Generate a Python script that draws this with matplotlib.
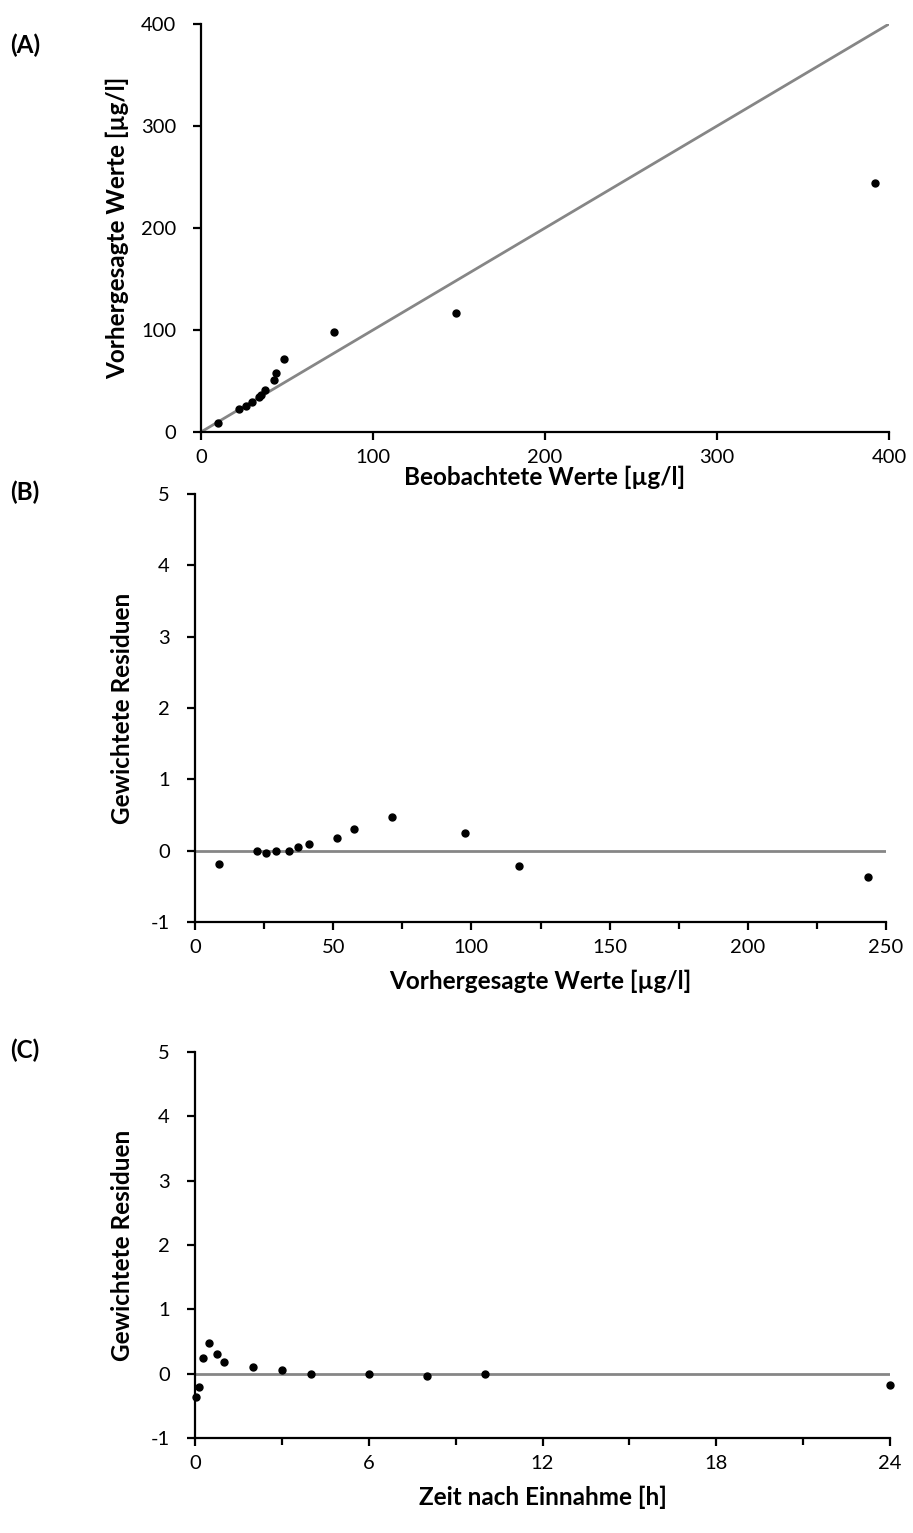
import matplotlib
matplotlib.use("Agg")
import matplotlib.pyplot as plt
from matplotlib.ticker import MultipleLocator

plt.rcParams['font.family'] = ['Lato', 'DejaVu Sans']
plt.rcParams['axes.unicode_minus'] = False

# Panel A: observed vs predicted
obs_A = [10.1, 22.1, 26.2, 29.5, 33.9, 34.9, 37.0, 42.6, 43.8, 48.0, 77.3, 148.0, 392.0]
pred_A = [8.5, 22.2, 25.5, 29.7, 34.0, 36.3, 40.9, 51.0, 57.5, 71.3, 97.7, 117.0, 244.0]
identity = [0, 400]

# Panel B: weighted residuals vs predicted
pred_B = [8.8, 22.3, 25.6, 29.4, 34.0, 37.1, 41.2, 51.3, 57.4, 71.3, 97.6, 117.3, 243.5]
res_B = [-0.18, -0.01, -0.03, -0.01, -0.01, 0.05, 0.10, 0.18, 0.30, 0.47, 0.25, -0.21, -0.375]

# Panel C: weighted residuals vs time
time_C = [0.05, 0.15, 0.27, 0.5, 0.75, 1.0, 2.0, 3.0, 4.0, 6.0, 8.0, 10.0, 24.0]
res_C = [-0.37, -0.20, 0.25, 0.47, 0.30, 0.18, 0.10, 0.05, -0.01, -0.01, -0.03, -0.01, -0.18]

W, H = 913, 1533
fig = plt.figure(figsize=(W / 100, H / 100), dpi=100)

def ax_at(left, top, right, bottom):
    return fig.add_axes([left / W, 1 - bottom / H, (right - left) / W, (bottom - top) / H])

TICK_FS = 14.5
LAB_FS = 17.5
GRAY = '#868686'
MS = 5

def style(ax):
    for s in ('top', 'right'):
        ax.spines[s].set_visible(False)
    for s in ('left', 'bottom'):
        ax.spines[s].set_linewidth(1.6)
        ax.spines[s].set_color('black')
    ax.tick_params(which='major', direction='out', length=6, width=1.6, labelsize=TICK_FS, pad=6)
    ax.tick_params(which='minor', direction='out', length=5, width=1.6)
    ax.tick_params(axis='y', which='major', pad=12)

# ---- Panel A
axA = ax_at(201, 24, 889, 432)
axA.plot(identity, identity, color=GRAY, lw=2, zorder=2)
axA.plot(obs_A, pred_A, 'o', color='black', ms=MS, zorder=3, clip_on=False)
axA.set_xlim(0, 400)
axA.set_ylim(0, 400)
axA.xaxis.set_major_locator(MultipleLocator(100))
axA.yaxis.set_major_locator(MultipleLocator(100))
style(axA)
axA.set_xlabel('Beobachtete Werte [µg/l]', fontsize=LAB_FS, fontweight='bold', labelpad=0)
axA.set_ylabel('Vorhergesagte Werte [µg/l]', fontsize=LAB_FS, fontweight='bold', labelpad=8)
fig.text(10 / W, 1 - 45 / H, '(A)', fontsize=LAB_FS, fontweight='bold', va='center')

# ---- Panel B
axB = ax_at(195, 494, 886, 922)
axB.plot([0, 250], [0, 0], color=GRAY, lw=2, zorder=2)
axB.plot(pred_B, res_B, 'o', color='black', ms=MS, zorder=3)
axB.set_xlim(0, 250)
axB.set_ylim(-1, 5)
axB.xaxis.set_major_locator(MultipleLocator(50))
axB.xaxis.set_minor_locator(MultipleLocator(25))
axB.yaxis.set_major_locator(MultipleLocator(1))
style(axB)
axB.set_xlabel('Vorhergesagte Werte [µg/l]', fontsize=LAB_FS, fontweight='bold', labelpad=10)
axB.set_ylabel('Gewichtete Residuen', fontsize=LAB_FS, fontweight='bold', labelpad=12)
fig.text(10 / W, 1 - 492 / H, '(B)', fontsize=LAB_FS, fontweight='bold', va='center')

# ---- Panel C
axC = ax_at(195, 1052, 890, 1438)
axC.plot([0, 24], [0, 0], color=GRAY, lw=2, zorder=2)
axC.plot(time_C, res_C, 'o', color='black', ms=MS, zorder=3, clip_on=False)
axC.set_xlim(0, 24)
axC.set_ylim(-1, 5)
axC.xaxis.set_major_locator(MultipleLocator(6))
axC.xaxis.set_minor_locator(MultipleLocator(3))
axC.yaxis.set_major_locator(MultipleLocator(1))
style(axC)
axC.set_xlabel('Zeit nach Einnahme [h]', fontsize=LAB_FS, fontweight='bold', labelpad=10)
axC.set_ylabel('Gewichtete Residuen', fontsize=LAB_FS, fontweight='bold', labelpad=12)
fig.text(10 / W, 1 - 1050 / H, '(C)', fontsize=LAB_FS, fontweight='bold', va='center')

fig.savefig('out.png', dpi=100, facecolor='white')
